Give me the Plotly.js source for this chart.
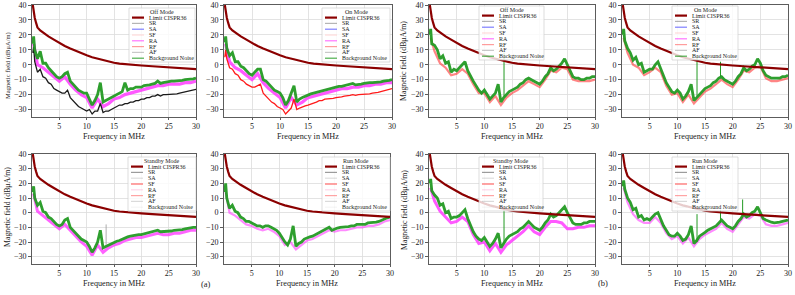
<!DOCTYPE html>
<html><head><meta charset="utf-8">
<script src="https://cdn.plot.ly/plotly-3.0.1.min.js"></script>
<style>html,body{margin:0;padding:0;background:#fff}</style>
</head><body><div id="chart" style="width:795px;height:295px"></div>
<script>
// ---------- data ----------
const freq = [0.15,0.3,0.5,
 1,1.5,2,2.5,3,3.5,4,4.5,5,5.5,
 6,6.5,7,7.5,8,8.5,9,9.5,10,10.5,
 11,11.5,12,12.5,13,13.5,14,14.5,15,15.5,
 16,16.5,17,17.5,18,18.5,19,19.5,20,20.5,
 21,21.5,22,22.5,23,23.5,24,24.5,25,25.5,
 26,26.5,27,27.5,28,28.5,29,29.5,30];
const freqCoarse = [0.3,1,2,3,4,5,6,7,8,9,10,11,12,13,14,15,16,17,18,19,20,21,22,23,24,25,26,27,28,29,30];
const limitFreq = [0.15,0.3,0.5,0.75,1,1.5,2,3,4,5,6,7,8,9,10,11,12,13,14,15,16,17,18,19,20,22,24,26,28,30];
const limitVal  = [40,36,31.5,28,25,23,21.5,19,16.8,14.5,12.5,10.8,9.2,7.7,6.3,5,4,3,2,1.3,0.8,0.4,0,-0.3,-0.5,-1,-1.4,-1.9,-2.4,-2.9];

const modeNames = ["Off Mode","On Mode","Off Mode","On Mode","Standby Mode","Run Mode","Standby Mode","Run Mode"];
const legendNames = ["Limit CISPR36","SR","SA","SF","RA","RF","AF","Background Noise"];
const xTicks = [5,10,15,20,25,30];
const yTicks = [-30,-20,-10,0,10,20,30,40];

// (a) Off mode
const offA_noise = [14,19,10,
 4,9,1,1,-2,-4,-6,-8,-9,-8,
 -6,-5,-11,-13,-15,-17,-18,-19,-19,-23,
 -27,-24,-20,-12,-25,-24,-23,-22,-21,-20,
 -19,-18,-12,-17,-16,-16,-15,-15,-15,-14,
 -14,-13.5,-13,-12.5,-11,-12.5,-12,-11.5,-11,-11,
 -11,-11,-11,-10.5,-10,-10,-10,-9.5,-9];
const offA_SR = [8,12,2,
 -5,-3,-8,-9,-12,-13,-16,-17,-18,-19,
 -19,-17,-22,-24,-26,-28,-29,-30,-31,-30,
 -33,-31,-31,-26,-32,-31,-31,-30,-29,-28,
 -27,-27,-26,-26,-25,-25,-24,-24,-23,-23,
 -22,-22,-21,-21,-20,-21,-20,-20,-20,-20,
 -20,-19.5,-19,-18.5,-18,-18,-17.5,-17,-16.5];
const offA_RA = [14,0,-2,-5,-8,-11,-8,-13,-17,-20,-22,-29,-23,-28,-26,-23,-22,-20,-19,-18,-17,-16,-15,-14,-14,-13,-13,-13,-12,-12,-11];

// (a) On mode
const onA_noise = [15,19,11,
 6,8,2,2,-1,-2,-4,-6,-7,-5,
 -3,-3,-10,-11,-13,-15,-17,-18,-19,-22,
 -27,-24,-19,-14,-25,-23,-22,-21,-20,-19.5,
 -19,-18.5,-18,-17.5,-17,-16.5,-16,-15.5,-15,-14.5,
 -14.5,-14,-14,-13.5,-12.5,-13.5,-13.5,-13,-12.5,-12,
 -12,-12,-12,-11.5,-11.5,-11,-11,-10.5,-10];
const onA_RF = [5,10,4,
 -2,-3,-6,-7,-10,-11,-13,-14,-15,-15,
 -14,-13,-19,-21,-23,-25,-26,-28,-29,-30,
 -33,-31,-29,-23,-30,-29,-28,-27.5,-27,-26.5,
 -26,-25,-24,-24,-23,-23,-23,-22.5,-22,-22,
 -21.5,-21,-21,-20.5,-20,-20.5,-20,-20,-20,-19.5,
 -19.5,-19,-19,-18.5,-18,-17.5,-17,-16.5,-16];
const onA_RA = [14,2,-2,-4,-7,-10,-6,-12,-16,-19,-22,-29,-22,-27,-25,-22,-21,-20,-19,-18,-17,-16,-16,-15,-15,-14,-14,-13,-13,-12,-12];

// (b) Off mode
const offB_noise = [20,24,14,
 13,10,4,6,1,2,-5,-3,-4,-2,
 0,2,-4,-8,-11,-14,-17,-19,-17,-20,
 -23,-21,-19,-13,-25,-22,-20,-18,-17,-16,
 -15,-13,-12,-10,-9,-10,-11,-12,-13,-11,
 -8,-6,-2,-4,-3,-1,1,4,0,-5,
 -8,-9,-9,-10,-10,-9,-9,-8,-8];
const offB_RF = [18,9,1,-2,-7,-6,-3,-6,-13,-19,-19,-25,-21,-27,-22,-19,-17,-14,-11,-13,-15,-10,-4,-5,-2,-3,-10,-11,-11,-11,-10];
const offB_spikeF = [13.56,13.56];
const offB_spikeV = [-21,8];

// (b) On mode
const onB_noise = [20,24,16,
 11,8,3,5,0,1,-5,-4,-3,-3,
 0,2,-3,-8,-12,-15,-18,-19,-17,-19,
 -23,-21,-18,-13,-24,-22,-20,-18,-16,-15,
 -14,-12,-11,-9,-8,-10,-11,-12,-13,-11,
 -8,-6,-2,-4,-3,-1,0,4,1,-4,
 -7,-8,-9,-9,-9,-9,-8,-8,-7];
const onB_RF = [18,8,0,-2,-7,-5,-2,-5,-14,-20,-19,-25,-20,-26,-22,-18,-16,-13,-10,-13,-15,-10,-4,-5,-2,-1,-9,-11,-11,-10,-9];
const onB_spikeF = [13.56,13.56,null,17.8,17.8];
const onB_spikeV = [-21,6,null,-8,2];

// (a) Standby mode
const stbA_noise = [14,18,10,
 5,7,1,0,-3,-4,-6,-8,-9,-8,
 -5,-4,-10,-12,-14,-16,-18,-19,-20,-23,
 -27,-24,-20,-12,-24,-23,-22,-21,-20,-19.5,
 -19,-18,-17,-16.5,-16,-15.5,-15,-15,-15,-14.5,
 -14,-13.5,-13,-12.5,-12,-13,-13,-13,-13,-12.5,
 -12,-12,-12,-11.5,-11,-10.5,-10,-10,-10];
const stbA_RA = [13,1,-2,-5,-8,-11,-8,-12,-16,-20,-23,-29,-22,-27,-24,-22,-21,-19,-18,-17,-17,-16,-15,-14,-15,-15,-14,-14,-13,-12,-12];
const stbA_spikeF = [13.56,13.56];
const stbA_spikeV = [-22,-8];

// (a) Run mode
const runA_noise = [14,20,10,
 3,5,1,0,-3,-4,-6,-6,-7,-8,
 -9,-9,-10,-9,-9,-10,-11,-12,-14,-17,
 -20,-22,-18,-9,-23,-21,-20,-18,-17,-16.5,
 -16,-15,-14,-13,-12,-11,-10,-12,-11,-10.5,
 -10,-10,-10,-9.5,-9,-9,-8,-8,-8,-8,
 -7,-7,-7,-6.5,-6,-5,-4,-3.5,-3];
const runA_RA = [14,0,-2,-5,-8,-9,-11,-12,-11,-13,-16,-22,-20,-25,-22,-19,-18,-16,-14,-12,-13,-12,-12,-11,-10,-10,-9,-9,-8,-6,-5];

// (b) Standby mode
const stbB_noise = [20,23,15,
 12,10,5,6,0,1,-4,-3,-3,-2,
 0,2,-4,-9,-13,-16,-18,-19,-17,-20,
 -23,-21,-18,-14,-24,-21,-18,-16,-15,-14,
 -13,-11,-10,-8,-6,-8,-10,-11,-12,-10,
 -7,-5,-1,-3,-2,0,2,4,0,-4,
 -7,-8,-8,-8,-7,-7,-6,-6,-6];
const stbB_RA = [17,8,1,-3,-7,-6,-3,-6,-15,-21,-20,-26,-21,-27,-22,-19,-16,-13,-9,-13,-15,-10,-6,-6,-7,-11,-11,-10,-10,-9,-9];
const stbB_spikeF = [13.56,13.56];
const stbB_spikeV = [-21,3];

// (b) Run mode
const runB_noise = [18,22,16,
 10,7,2,3,-3,-2,-5,-4,-5,-3,
 -1,0,-5,-9,-12,-15,-16,-16,-14,-16,
 -19,-18,-15,-9,-21,-19,-16,-15,-13.5,-12,
 -11,-10,-9,-7,-5,-7,-9,-10,-11,-9,
 -6,-4,-1,-3,-2,0,1,4,0,-4,
 -5,-6,-6.5,-7,-7,-6.5,-6,-5.5,-5];
const runB_RA = [17,7,-1,-5,-7,-7,-3,-7,-14,-18,-16,-21,-17,-23,-18,-15,-13,-11,-7,-11,-13,-8,-3,-4,-1,-2,-8,-9,-9,-8,-7];
const runB_spikeF = [13.56,13.56,null,17.8,17.8,null,21.8,21.8];
const runB_spikeV = [-20,-1,null,-7,2,null,-2,9];

// ---------- layout helpers ----------
const W = 795, H = 295;
const px = x => x / W, py = y => 1 - y / H;
const FONT = "Liberation Serif, DejaVu Serif, serif";

const boxes = [
  {x0:32,x1:196,y0:5,y1:117, leg:[129,195,8], ylab:[8,66,6.5]},
  {x0:224,x1:392,y0:5,y1:117, leg:[322,390,8]},
  {x0:429,x1:595,y0:5,y1:117, leg:[479,544,6], ylab:[404,61,7.8]},
  {x0:622,x1:788,y0:5,y1:117, leg:[672,738,6]},
  {x0:32,x1:196,y0:154,y1:264, leg:[128,196,157], ylab:[7,207,7.8]},
  {x0:224,x1:390,y0:154,y1:264, leg:[322,390,157]},
  {x0:429,x1:595,y0:154,y1:264, leg:[479,543,157], ylab:[404,210,7.8]},
  {x0:622,x1:788,y0:154,y1:264, leg:[672,738,157]}
];

const legColsTop = ["#8b0000","rgba(90,90,90,0.45)","rgba(40,40,255,0.6)","rgba(255,150,150,0.35)","rgba(255,0,255,0.55)","rgba(255,60,60,0.5)","rgba(120,120,120,0.4)","rgba(0,140,0,0.7)"];
const legColsBot = ["#8b0000","rgba(90,90,90,0.6)","rgba(160,160,160,0.35)","rgba(255,40,40,0.7)","rgba(255,150,200,0.4)","rgba(255,90,90,0.55)","rgba(150,150,150,0.35)","rgba(200,200,200,0.2)"];

const traces = [];
const ax = i => (i === 0 ? "" : String(i + 1));

function addLine(i, x, y, color, width, name, opacity) {
  traces.push({type:"scatter", mode:"lines", x:x, y:y, name:name,
    xaxis:"x"+ax(i), yaxis:"y"+ax(i), showlegend:false, connectgaps:false,
    opacity: opacity === undefined ? 1 : opacity,
    line:{color:color, width:width}, hoverinfo:"skip"});
}

const GREEN = "#239a23", MAG = "#ff3cff";
// panel 1
addLine(0, freqCoarse, offA_RA, MAG, 3.2, "RA", 0.85);
addLine(0, freq, offA_SR, "#1a1a1a", 1.3, "SR");
addLine(0, freq, offA_noise, GREEN, 2.8, "Background Noise", 0.95);
// panel 2
addLine(1, freqCoarse, onA_RA, MAG, 3.2, "RA", 0.85);
addLine(1, freq, onA_RF, "#ff1a1a", 1.3, "RF");
addLine(1, freq, onA_noise, GREEN, 2.8, "Background Noise", 0.95);
// panel 3
addLine(2, freqCoarse, offB_RF, "#ff2020", 2.2, "RF", 0.55);
addLine(2, freq, offB_noise, GREEN, 2.8, "Background Noise", 0.95);
addLine(2, offB_spikeF, offB_spikeV, GREEN, 1, "Background Noise");
// panel 4
addLine(3, freqCoarse, onB_RF, "#ff2020", 2.2, "RF", 0.55);
addLine(3, freq, onB_noise, GREEN, 2.8, "Background Noise", 0.95);
addLine(3, onB_spikeF, onB_spikeV, GREEN, 1, "Background Noise");
// panel 5
addLine(4, freqCoarse, stbA_RA, MAG, 3, "RA", 0.8);
addLine(4, freq, stbA_noise, GREEN, 2.8, "Background Noise", 0.95);
addLine(4, stbA_spikeF, stbA_spikeV, "#999", 0.8, "AF");
// panel 6
addLine(5, freqCoarse, runA_RA, MAG, 2.2, "RA", 0.6);
addLine(5, freq, runA_noise, GREEN, 2.8, "Background Noise", 0.95);
// panel 7
addLine(6, freqCoarse, stbB_RA, MAG, 3, "RA", 0.85);
addLine(6, freq, stbB_noise, GREEN, 2.8, "Background Noise", 0.95);
addLine(6, stbB_spikeF, stbB_spikeV, GREEN, 1, "Background Noise");
// panel 8
addLine(7, freqCoarse, runB_RA, MAG, 2.2, "RA", 0.6);
addLine(7, freq, runB_noise, GREEN, 2.8, "Background Noise", 0.95);
addLine(7, runB_spikeF, runB_spikeV, GREEN, 1, "Background Noise");
// limit on all
for (let i = 0; i < 8; i++) addLine(i, limitFreq, limitVal, "#8b0000", 2.2, "Limit CISPR36");

const layout = {width:W, height:H, margin:{l:0,r:0,t:0,b:0}, showlegend:false,
  paper_bgcolor:"#fff", plot_bgcolor:"#fff", font:{family:FONT, color:"#222"},
  shapes:[], annotations:[]};

boxes.forEach((b, i) => {
  const axStyle = {showgrid:true, gridcolor:"#dcdcdc", gridwidth:0.8, zeroline:false,
    showline:true, mirror:true, linecolor:"#333", linewidth:0.8,
    ticks:"outside", ticklen:3, tickwidth:0.8, tickcolor:"#333",
    tickfont:{family:FONT, size:8, color:"#222"}, fixedrange:true};
  layout["xaxis"+ax(i)] = Object.assign({}, axStyle, {domain:[px(b.x0), px(b.x1)], range:[0,30],
    tickvals:xTicks, anchor:"y"+ax(i), ticklen:2});
  layout["yaxis"+ax(i)] = Object.assign({}, axStyle, {domain:[py(b.y1), py(b.y0)], range:[-35,40],
    tickvals:yTicks, anchor:"x"+ax(i)});
  // x title
  layout.annotations.push({text:"Frequency in MHz", xref:"paper", yref:"paper",
    x:px((b.x0+b.x1)/2), y:py(b.y1 + 19.5), xanchor:"center", yanchor:"middle", showarrow:false,
    font:{family:FONT, size:8.2, color:"#222"}});
  if (b.ylab) {
    layout.annotations.push({text:"Magnetic field (dBμA/m)", xref:"paper", yref:"paper",
      x:px(b.ylab[0]), y:py(b.ylab[1]), xanchor:"center", yanchor:"middle", textangle:-90, showarrow:false,
      font:{family:FONT, size:b.ylab[2], color:"#222"}});
  }
  // legend box
  const [lx0, lx1, ly0] = b.leg;
  const ly1 = ly0 + 54;
  layout.shapes.push({type:"rect", xref:"paper", yref:"paper", x0:px(lx0), x1:px(lx1), y0:py(ly1), y1:py(ly0),
    fillcolor:"rgba(255,255,255,0.8)", line:{color:"#cfcfcf", width:0.7}, layer:"above"});
  layout.annotations.push({text:modeNames[i], xref:"paper", yref:"paper", x:px((lx0+lx1)/2), y:py(ly0+4),
    xanchor:"center", yanchor:"middle", showarrow:false, font:{family:FONT, size:6, color:"#222"}});
  const cols = i < 4 ? legColsTop : legColsBot;
  legendNames.forEach((nm, k) => {
    const yy = ly0 + 9.6 + k * 5.8;
    layout.shapes.push({type:"line", xref:"paper", yref:"paper", x0:px(lx0+3), x1:px(lx0+15), y0:py(yy), y1:py(yy),
      line:{color:cols[k], width:k === 0 ? 2.2 : 1.2}, layer:"above"});
    layout.annotations.push({text:nm, xref:"paper", yref:"paper", x:px(lx0+18), y:py(yy),
      xanchor:"left", yanchor:"middle", showarrow:false, font:{family:FONT, size:6, color:"#222"}});
  });
});
layout.annotations.push({text:"(a)", xref:"paper", yref:"paper", x:px(206), y:py(284), xanchor:"center", yanchor:"middle",
  showarrow:false, font:{family:FONT, size:8.5, color:"#222"}});
layout.annotations.push({text:"(b)", xref:"paper", yref:"paper", x:px(603), y:py(283), xanchor:"center", yanchor:"middle",
  showarrow:false, font:{family:FONT, size:8.5, color:"#222"}});

Plotly.newPlot("chart", traces, layout, {staticPlot:true, displayModeBar:false});
</script>
</body></html>
